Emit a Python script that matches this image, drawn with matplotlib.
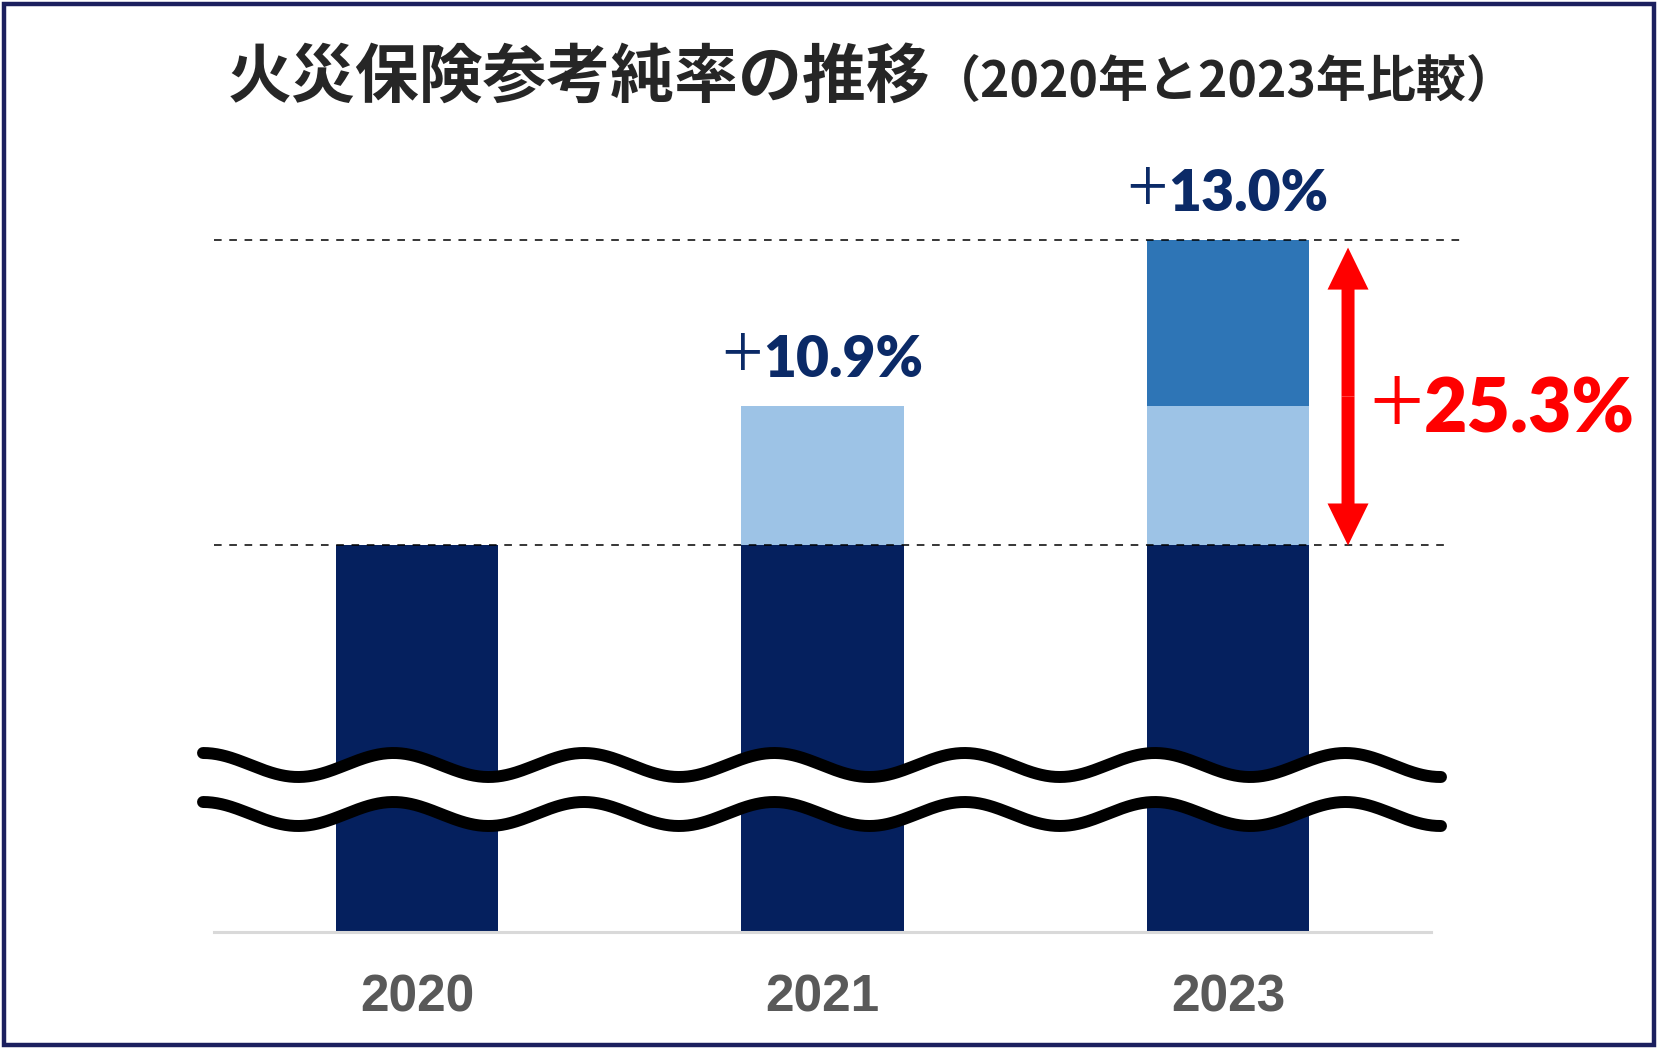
import numpy as np
import matplotlib
matplotlib.use('Agg')
import matplotlib.pyplot as plt
from matplotlib.patches import Rectangle
from matplotlib.transforms import IdentityTransform

W, H = 1677, 1054

# data (index, 2020 = 100; the axis is broken below)
years = ['2020', '2021', '2023']
base = np.array([100.0, 100.0, 100.0])
rise_2021 = np.array([0.0, 10.9, 10.9])
rise_2023 = np.array([0.0, 0.0, 13.0])
bar_labels = ['', '10.9%', '13.0%']
total_label = '25.3%'

title_main = '火災保険参考純率の推移'
title_sub = '（2020年と2023年比較）'

NAVY = '#05205e'
LIGHT = '#9dc3e6'
MID = '#2e75b6'
LABEL = '#0b2a67'
RED = '#ff0000'
GRAY_TXT = '#595959'
FRAME = '#1b1f5e'

fig = plt.figure(figsize=(W / 100, H / 100), dpi=100)
ax = fig.add_axes([214.25 / W, 122 / H, 1216.5 / W, 782 / H])

x = np.arange(len(years))
ax.bar(x, base, 0.4, color=NAVY, lw=0)
ax.bar(x, rise_2021, 0.4, bottom=base, color=LIGHT, lw=0)
ax.bar(x, rise_2023, 0.4, bottom=base + rise_2021, color=MID, lw=0)
ax.set_xlim(-0.5, 2.5)
ax.set_ylim(69.8, 130.9)

top = (base + rise_2021 + rise_2023).max()
ax.plot([-0.5, 2.58], [top, top], ls=(0, (5, 5)), lw=1.1, color='black', clip_on=False, zorder=3)
ax.plot([-0.5, 2.54], [100, 100], ls=(0, (5, 5)), lw=1.1, color='black', clip_on=False, zorder=3)

for s in ['top', 'left', 'right']:
    ax.spines[s].set_visible(False)
ax.spines['bottom'].set_color('#d9d9d9')
ax.spines['bottom'].set_linewidth(2.2)
ax.set_xticks([])
ax.set_yticks([])

for xi, yr in zip(x, years):
    ax.text(xi, -80 / 782, yr, transform=ax.get_xaxis_transform(), ha='center', va='baseline',
            fontsize=37, family='Liberation Sans', weight='bold', color=GRAY_TXT)

# double headed arrow 2020 -> 2023
arrow_x = 2.296
tip = top - 8 / 12.8
mid = (100 + tip) / 2
for end in (tip, 100):
    ax.arrow(arrow_x, mid, 0, end - mid, width=13 / 405.5, head_width=41 / 405.5, head_length=42 / 12.8,
             length_includes_head=True, color=RED, lw=0, clip_on=False, zorder=4)


def plus_text(px, py, num, size, color, align='center'):
    # thin "+" (a bit larger) followed by bold number, positioned in pixels
    tp = fig.text(0, 0, '+', transform=IdentityTransform(), fontsize=size * 1.3, family='Noto Sans CJK JP',
                  weight='light', color=color, va='baseline')
    tn = fig.text(0, 0, num, transform=IdentityTransform(), fontsize=size, family='Lato',
                  weight='heavy', color=color, va='baseline')
    r = fig.canvas.get_renderer()
    wp = tp.get_window_extent(r).width
    wn = tn.get_window_extent(r).width
    gap = size * 0.03
    left = px - (wp + gap + wn) / 2 if align == 'center' else px
    tp.set_position((left, py - size * 0.06))
    tn.set_position((left + wp + gap, py))


for i in (1, 2):
    bx, by = ax.transData.transform((x[i], base[i] + rise_2021[i] + rise_2023[i]))
    plus_text(bx, by + 29, bar_labels[i], 41, LABEL)

px, py = ax.transData.transform((2.35, 108.8))
plus_text(px, py, total_label, 54, RED, align='left')

# title
t1 = fig.text(228, H - 97, title_main, transform=IdentityTransform(), fontsize=46,
              family='Noto Sans CJK JP', weight='bold', color='#262626', va='baseline')
w1 = t1.get_window_extent(fig.canvas.get_renderer()).width
fig.text(228 + w1, H - 97, title_sub, transform=IdentityTransform(), fontsize=36,
         family='Noto Sans CJK JP', weight='bold', color='#262626', va='baseline')

# wavy break marks + frame, drawn in pixel space
ov = fig.add_axes([0, 0, 1, 1], zorder=5)
ov.set_xlim(0, W)
ov.set_ylim(H, 0)
ov.axis('off')
ov.patch.set_alpha(0)
xs = np.linspace(203, 1441, 800)
wave = 765 - 12 * np.cos(np.pi * (xs - 203) / 95.2)
ov.fill_between(xs, wave, wave + 49, color='white', lw=0)
ov.plot(xs, wave, color='black', lw=8.6, solid_capstyle='round')
ov.plot(xs, wave + 49, color='black', lw=8.6, solid_capstyle='round')
ov.add_patch(Rectangle((4, 4), 1650.5, 1041, fill=False, ec=FRAME, lw=3.2, clip_on=False))

fig.savefig('out.png', dpi=100)
